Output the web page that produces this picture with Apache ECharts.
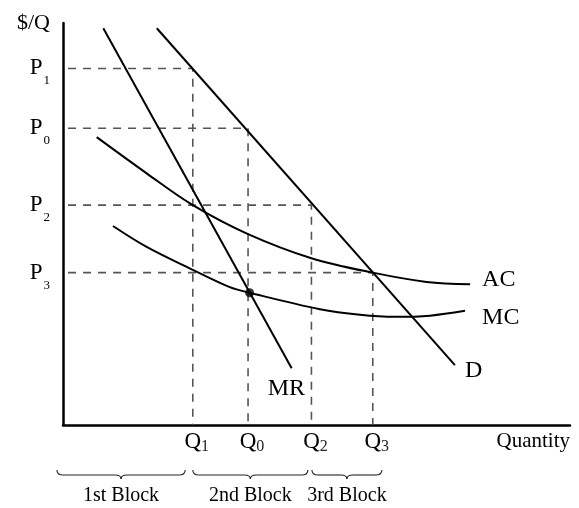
<!DOCTYPE html>
<html>
<head>
<meta charset="utf-8">
<script src="https://cdn.jsdelivr.net/npm/echarts@6/dist/echarts.min.js"></script>
<style>
  html, body { margin: 0; padding: 0; background: #fff; }
  #chart { width: 579px; height: 508px; }
</style>
</head>
<body>
<div id="chart"></div>
<script>
// Price levels on the vertical axis: subscript of P and its value
const priceSubs = ['1', '0', '2', '3'];
const prices = [88.7, 73.8, 54.7, 37.9];

// Quantity levels on the horizontal axis: subscript of Q and its value
const quantitySubs = ['1', '0', '2', '3'];
const quantities = [25.6, 36.5, 49.0, 61.1];

// Straight demand and marginal revenue lines (end points)
const demand = [[18.5, 98.7], [77.3, 14.9]];
const marginalRevenue = [[7.95, 98.7], [45.1, 14.1]];

// Cost curves
const averageCost = [
  [6.65, 71.6], [16.5, 62.6], [25.6, 54.7], [36.5, 47.5],
  [49.0, 41.5], [61.1, 37.9], [71.7, 35.6], [80.3, 35.0]
];
const marginalCost = [
  [9.86, 49.5], [16.5, 44.3], [25.6, 38.6], [32.9, 34.3], [36.8, 32.9],
  [50.7, 28.8], [58.6, 27.4], [65.5, 26.9], [72.4, 27.2], [79.3, 28.4]
];

// MR = MC point
const optimum = [[36.8, 32.9]];

// Pricing blocks under the quantity axis
const blockNames = ['1st Block', '2nd Block', '3rd Block'];
const blockSpans = [[-1.2, 24.1], [25.6, 48.3], [49.1, 62.9]];

const FONT = '"Liberation Serif", "Times New Roman", Times, serif';

function nearestIndex(list, v) {
  let best = 0;
  for (let i = 1; i < list.length; i++) {
    if (Math.abs(list[i] - v) < Math.abs(list[best] - v)) best = i;
  }
  return best;
}

// Dashed guides: from the price axis across to the quantity, then down
const guideSeries = prices.map((p, i) => ({
  type: 'line',
  silent: true,
  symbol: 'none',
  data: [[1, p], [quantities[i], p], [quantities[i], 0]],
  lineStyle: { color: '#555', width: 1.6, type: [8, 7] },
  z: 1
}));

function curve(data, name, offset, smooth) {
  return {
    type: 'line',
    name: name,
    data: data,
    symbol: 'none',
    smooth: smooth ? 0.35 : false,
    lineStyle: { color: '#000', width: 2 },
    endLabel: {
      show: true,
      formatter: name,
      distance: 0,
      offset: offset,
      color: '#000',
      fontFamily: FONT,
      fontSize: 24
    },
    z: 3
  };
}

const chart = echarts.init(document.getElementById('chart'), null, { renderer: 'canvas' });

chart.setOption({
  animation: false,
  backgroundColor: '#fff',
  grid: { left: 63, top: 23, width: 507, height: 402, containLabel: false, outerBoundsMode: 'none' },
  xAxis: {
    type: 'value',
    min: 0,
    max: 100,
    name: 'Quantity',
    nameLocation: 'end',
    nameGap: 0,
    nameTextStyle: {
      fontFamily: FONT, fontSize: 21, color: '#000',
      align: 'right', verticalAlign: 'top', padding: [6, 0, 0, 0]
    },
    axisLine: { show: true, lineStyle: { color: '#000', width: 2.5 } },
    axisTick: { show: false },
    splitLine: { show: false },
    axisLabel: {
      customValues: quantities,
      margin: 4,
      formatter: v => '{q|Q}{s|' + quantitySubs[nearestIndex(quantities, v)] + '}',
      rich: {
        q: { fontFamily: FONT, fontSize: 23, color: '#000', padding: [0, 0, 0, 8] },
        s: { fontFamily: FONT, fontSize: 16, color: '#222', padding: [10, 0, 0, 0] }
      }
    }
  },
  yAxis: {
    type: 'value',
    min: 0,
    max: 100,
    name: '$/Q',
    nameLocation: 'end',
    nameGap: 0,
    nameTextStyle: {
      fontFamily: FONT, fontSize: 22, color: '#000',
      align: 'right', verticalAlign: 'middle', padding: [0, 13, 0, 0]
    },
    axisLine: { show: true, lineStyle: { color: '#000', width: 2.5 } },
    axisTick: { show: false },
    splitLine: { show: false },
    axisLabel: {
      customValues: prices,
      margin: 13,
      formatter: v => '{p|P}{s|' + priceSubs[nearestIndex(prices, v)] + '}',
      rich: {
        p: { fontFamily: FONT, fontSize: 23, color: '#000' },
        s: { fontFamily: FONT, fontSize: 13, color: '#000', padding: [25, 0, 0, 1] }
      }
    }
  },
  series: [
    ...guideSeries,
    curve(demand, 'D', [10, 6], false),
    curve(marginalRevenue, 'MR', [-24, 20], false),
    curve(averageCost, 'AC', [12, -5], true),
    curve(marginalCost, 'MC', [17, 6.5], true),
    {
      type: 'scatter',
      data: optimum,
      symbol: 'circle',
      symbolSize: 9,
      itemStyle: { color: '#000' },
      silent: true,
      z: 4
    },
    {
      // Curly braces grouping quantities into pricing blocks
      type: 'custom',
      silent: true,
      clip: false,
      data: blockSpans.map((s, i) => [s[0], s[1], i]),
      renderItem: (params, api) => {
        const x0 = api.coord([api.value(0), 0])[0];
        const x1 = api.coord([api.value(1), 0])[0];
        const base = api.coord([0, 0])[1];
        const top = base + 45, mid = top + 5, tip = top + 9;
        const xm = (x0 + x1) / 2;
        const r = 6;
        const st = { stroke: '#222', lineWidth: 1.1, fill: null };
        return {
          type: 'group',
          children: [
            { type: 'bezierCurve', shape: { x1: x0, y1: top, cpx1: x0, cpy1: mid, x2: x0 + r, y2: mid }, style: st },
            { type: 'line', shape: { x1: x0 + r, y1: mid, x2: xm - r, y2: mid }, style: st },
            { type: 'bezierCurve', shape: { x1: xm - r, y1: mid, cpx1: xm, cpy1: mid, x2: xm, y2: tip }, style: st },
            { type: 'bezierCurve', shape: { x1: xm, y1: tip, cpx1: xm, cpy1: mid, x2: xm + r, y2: mid }, style: st },
            { type: 'line', shape: { x1: xm + r, y1: mid, x2: x1 - r, y2: mid }, style: st },
            { type: 'bezierCurve', shape: { x1: x1 - r, y1: mid, cpx1: x1, cpy1: mid, x2: x1, y2: top }, style: st },
            {
              type: 'text',
              style: {
                text: blockNames[api.value(2)],
                x: xm, y: top + 26,
                align: 'center', verticalAlign: 'middle',
                fontFamily: FONT, fontSize: 20, fill: '#000'
              }
            }
          ]
        };
      },
      z: 2
    }
  ]
});
</script>
</body>
</html>
